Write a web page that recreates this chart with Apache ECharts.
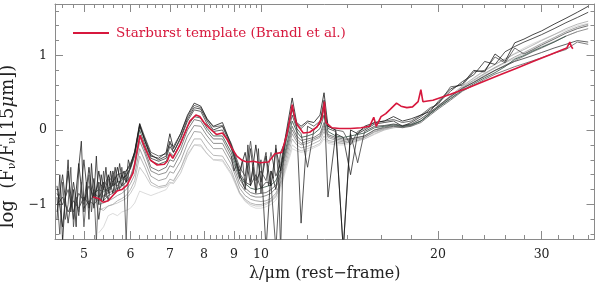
<!DOCTYPE html>
<html><head><meta charset="utf-8">
<script src="https://cdn.jsdelivr.net/npm/echarts@6/dist/echarts.min.js"></script>
<style>html,body{margin:0;padding:0;background:#fff}#c{width:600px;height:283px}</style>
</head><body><div id="c"></div>
<script>
// shared wavelength grid (micron)
const wl = [4.5,4.6,4.7,4.8,4.9,5.0,5.1,5.2,5.3,5.4,
 5.5,5.6,5.7,5.8,5.9,6.0,6.1,6.22,6.35,6.5,
 6.7,6.9,7.0,7.1,7.3,7.5,7.7,7.9,8.1,8.3,
 8.6,8.9,9.2,9.4,9.6,9.8,10.0,10.2,10.4,10.6,
 10.8,11.0,11.3,11.5,11.7,12.0,12.3,12.6,12.8,13.0,
 13.4,13.8,14.2,14.6,15.0,15.6,16.2,16.8,17.4,18.0,
 18.7,19.4,20.0,21.0,22.0,23.0,24.0,25.0,26.0,27.0,
 28.0,29.0,30.0,31.5,33.0,34.5,36.0];

const s1 = [-0.75,-1.30,-0.55,-1.20,-0.45,-1.10,-0.50,-1.05,-0.55,-0.95,
 -0.60,-0.85,-0.50,-0.75,-0.55,-0.45,-0.30,0.08,-0.15,-0.35,
 -0.38,-0.30,-0.05,-0.25,-0.05,0.20,0.36,0.32,0.15,0.05,
 0.10,-0.20,-0.55,-0.30,-0.75,-0.20,-0.70,-0.35,-0.75,-0.25,
 -0.55,-0.10,0.43,0.10,0.05,0.12,0.10,0.20,0.50,0.05,
 0.00,-1.60,0.00,-0.05,0.05,0.10,0.12,0.18,0.12,0.15,
 0.20,0.25,0.38,0.55,0.62,0.80,0.78,1.02,0.92,1.17,
 1.22,1.28,1.33,1.42,1.50,1.58,1.66];
const s2 = [-1.10,-0.60,-1.25,-0.70,-1.15,-0.40,-1.05,-0.65,-1.20,-0.70,
 -0.95,-0.55,-0.80,-0.60,-0.70,-0.50,-0.30,0.05,-0.12,-0.33,
 -0.40,-0.35,-0.15,-0.30,-0.10,0.15,0.30,0.28,0.12,0.00,
 0.05,-0.22,-0.60,-0.80,-0.25,-0.85,-0.40,-1.60,-0.55,-0.80,
 -0.30,-0.15,0.28,0.05,-1.25,0.05,0.00,0.10,0.40,-0.90,
 -0.05,-0.10,-0.60,-0.05,0.00,0.08,0.10,0.12,0.05,0.10,
 0.18,0.28,0.36,0.52,0.65,0.74,0.92,0.88,1.05,1.12,
 1.18,1.23,1.28,1.36,1.44,1.51,1.58];
const s3 = [-1.00,-0.90,-1.10,-0.95,-1.05,-0.90,-1.00,-0.85,-0.90,-0.80,
 -0.82,-0.72,-0.75,-0.65,-0.62,-0.50,-0.32,0.06,-0.15,-0.38,
 -0.42,-0.38,-0.22,-0.30,-0.12,0.12,0.27,0.25,0.08,-0.02,
 0.00,-0.25,-0.58,-0.70,-0.74,-0.60,-0.78,-0.70,-0.72,-1.60,
 -0.50,-0.20,0.20,0.02,-0.05,-0.50,0.00,0.08,0.30,0.02,
 -0.02,-1.60,-0.05,-0.44,-0.02,0.05,0.06,0.08,0.06,0.08,
 0.15,0.24,0.32,0.45,0.56,0.64,0.72,0.80,0.86,0.92,
 0.96,1.00,1.04,1.10,1.15,1.20,1.18];
const s4 = [null,null,null,null,null,null,null,-0.85,-0.80,-0.83,
 -0.78,-0.75,-0.70,-0.68,-0.60,-0.52,-0.35,0.00,-0.20,-0.42,
 -0.46,-0.42,-0.30,-0.35,-0.18,0.05,0.18,0.16,0.02,-0.08,
 -0.08,-0.30,-0.62,-0.72,-0.78,-0.80,-0.78,-0.76,-0.74,-0.68,
 -0.52,-0.28,0.12,-0.02,-0.10,-0.08,-0.05,0.02,0.20,-0.02,
 -0.08,-0.10,-0.08,-0.06,-0.04,0.03,0.05,0.07,0.05,0.07,
 0.12,0.22,0.30,0.42,0.53,0.62,0.70,0.77,0.85,0.95,
 1.00,1.06,1.11,1.18,1.26,null,null];
const s5 = [-0.85,-1.00,-0.80,-1.10,-0.85,-0.95,-0.75,-0.90,-0.70,-0.78,
 -0.62,-0.70,-0.60,-0.58,-0.55,-0.48,-0.28,0.09,-0.10,-0.30,
 -0.35,-0.32,-0.18,-0.22,-0.05,0.18,0.33,0.30,0.14,0.04,
 0.06,-0.18,-0.50,-0.62,-0.15,-0.68,-0.55,-0.68,-0.30,-0.62,
 -0.45,-0.12,0.30,0.08,0.02,0.10,0.05,0.12,0.32,0.05,
 0.00,-0.02,-0.20,-0.02,0.02,0.10,0.12,0.14,0.10,0.12,
 0.20,0.30,0.34,0.58,0.60,0.78,0.80,0.98,0.90,1.10,
 1.02,1.08,1.14,1.22,1.30,1.36,1.40];
const s6 = [null,null,null,null,null,-1.05,-0.95,-1.00,-0.92,-0.95,
 -0.88,-0.85,-0.80,-0.76,-0.70,-0.62,-0.45,-0.08,-0.28,-0.50,
 -0.55,-0.50,-0.40,-0.42,-0.25,0.00,0.14,0.12,-0.02,-0.12,
 -0.12,-0.35,-0.66,-0.78,-0.84,-0.86,-0.85,-0.84,-0.80,-0.74,
 -0.58,-0.32,0.05,-0.08,-0.14,-0.12,-0.10,-0.05,0.10,-0.06,
 -0.10,-0.12,-0.12,-0.10,-0.08,0.00,0.03,0.05,0.03,0.05,
 0.10,0.20,0.28,0.40,0.52,0.60,0.68,0.75,0.80,0.85,
 0.89,0.93,0.97,1.03,1.08,1.18,1.15];
const s7 = [null,null,null,null,null,null,null,-0.90,-0.95,-0.88,
 -0.85,-0.82,-0.78,-0.75,-0.70,-0.64,-0.50,-0.15,-0.32,-0.55,
 -0.60,-0.57,-0.48,-0.50,-0.32,-0.08,0.06,0.05,-0.08,-0.18,
 -0.18,-0.40,-0.72,-0.82,-0.88,-0.90,-0.90,-0.88,-0.85,-0.78,
 -0.62,-0.36,0.00,-0.12,-0.18,-0.15,-0.12,-0.08,0.06,-0.08,
 -0.12,-0.14,-0.12,-0.10,-0.08,0.00,0.04,0.06,0.04,0.06,
 0.12,0.22,0.30,0.42,0.55,0.64,0.73,0.80,0.87,0.93,
 0.99,1.05,1.10,1.18,1.26,1.32,1.36];
const s8 = [null,null,null,null,null,null,null,null,-1.00,-0.98,
 -0.95,-0.92,-0.88,-0.85,-0.80,-0.72,-0.60,-0.25,-0.42,-0.62,
 -0.68,-0.65,-0.56,-0.58,-0.42,-0.18,-0.02,-0.03,-0.15,-0.25,
 -0.25,-0.46,-0.78,-0.88,-0.93,-0.95,-0.96,-0.95,-0.92,-0.85,
 -0.70,-0.42,-0.05,-0.16,-0.20,-0.18,-0.14,-0.10,0.02,-0.10,
 -0.14,-0.16,-0.14,-0.12,-0.10,-0.02,0.02,0.05,0.04,0.06,
 0.12,0.22,0.31,0.44,0.57,0.67,0.76,0.84,0.91,0.98,
 1.04,1.10,1.16,1.24,1.32,1.38,1.42];
const s9 = [null,null,null,null,null,null,null,null,-1.05,-1.08,
 -1.02,-1.00,-0.95,-0.92,-0.88,-0.80,-0.68,-0.35,-0.50,-0.70,
 -0.76,-0.74,-0.66,-0.68,-0.52,-0.28,-0.12,-0.12,-0.25,-0.34,
 -0.35,-0.54,-0.84,-0.93,-0.98,-1.00,-1.00,-0.98,-0.95,-0.88,
 -0.74,-0.48,-0.12,-0.20,-0.24,-0.22,-0.18,-0.14,-0.02,-0.14,
 -0.16,-0.18,-0.16,-0.14,-0.10,-0.03,0.01,0.04,0.04,0.06,
 0.12,0.23,0.32,0.46,0.59,0.70,0.80,0.88,0.95,1.02,
 1.08,1.14,1.20,1.28,1.36,1.42,1.46];
const s10 = [null,null,null,null,null,null,null,null,-1.07,-1.05,
 -1.02,-1.00,-0.98,-0.95,-0.92,-0.85,-0.75,-0.50,-0.60,-0.74,
 -0.78,-0.76,-0.70,-0.72,-0.58,-0.35,-0.20,-0.20,-0.32,-0.40,
 -0.40,-0.58,-0.85,-0.95,-1.00,-1.02,-1.02,-1.00,-0.96,-0.90,
 -0.76,-0.52,-0.20,-0.25,-0.28,-0.25,-0.22,-0.18,-0.08,-0.16,
 -0.18,-0.18,-0.16,-0.14,-0.12,-0.05,0.00,0.03,0.04,0.06,
 0.12,0.22,0.31,0.44,0.56,0.66,0.75,0.83,0.90,0.96,
 1.02,1.07,1.12,1.19,1.26,1.32,null];
const s11 = [null,null,null,null,null,null,null,null,-1.38,-1.30,
 -1.15,-1.12,-1.15,-1.10,-1.08,-1.05,-0.98,-0.82,-0.85,-0.88,
 -0.84,-0.80,-0.72,-0.70,-0.52,-0.32,-0.20,-0.22,-0.32,-0.40,
 -0.42,-0.60,-0.86,-0.96,-1.02,-1.05,-1.05,-1.03,-1.00,-0.94,
 -0.80,-0.56,-0.25,-0.28,-0.30,-0.28,-0.24,-0.20,-0.12,-0.18,
 -0.20,-0.20,-0.18,-0.15,-0.12,-0.06,0.00,0.03,0.05,0.07,
 0.13,0.23,0.32,0.46,0.58,0.69,0.79,0.88,0.96,1.03,
 1.10,1.16,1.21,1.28,1.34,1.40,1.43];

// noisy short-wavelength segments
const noiseWl = [4.50,4.55,4.60,4.65,4.70,4.75,4.80,4.85,4.90,4.95,5.00,5.05,5.10,5.15,5.20,5.25,5.30,5.35,5.40,5.45,5.50,5.55,5.60,5.65,5.70,5.75,5.80,5.85,5.90,5.95,6.00];
const noiseA = [-1.2,-0.6,-1.5,-0.9,-0.4,-1.1,-0.8,-1.3,-0.5,-0.15,-1.0,-0.7,-1.2,-0.45,-0.9,-0.35,-1.0,-0.6,-0.8,-0.5,-0.85,-0.55,-0.75,-0.5,-0.7,-0.45,-0.65,-0.55,-0.7,-0.4,-0.5];
const noiseB = [-0.9,-1.4,-0.7,-1.2,-1.0,-0.5,-1.3,-0.9,-1.1,-0.7,-1.3,-0.9,-0.6,-1.1,-0.8,-1.5,-0.7,-0.95,-0.55,-0.9,-0.65,-0.8,-0.6,-0.85,-0.65,-0.8,-0.5,-0.75,-1.5,-0.6,-0.45];
const noiseWlC = [8.9,9.0,9.1,9.2,9.3,9.4,9.5,9.6,9.7,9.8,9.9,10.0,10.1,10.2,10.3,10.4,10.5,10.6,10.7,10.8,10.9,11.0];
const noiseC = [-0.35,-0.55,-0.45,-0.65,-0.40,-0.75,-0.20,-0.70,-0.50,-0.80,-0.25,-0.85,-0.45,-0.30,-0.75,-0.55,-0.65,-0.20,-0.60,-1.60,-0.45,-0.15];

// starburst template
const redWl = [5.18,5.3,5.39,5.5,5.6,5.69,5.8,5.92,6.06,6.15,
 6.23,6.32,6.48,6.66,6.85,6.93,7.0,7.08,7.28,7.57,
 7.75,7.87,8.0,8.18,8.4,8.6,8.75,8.9,9.1,9.3,
 9.47,9.7,9.96,10.3,10.56,10.85,11.07,11.2,11.3,11.4,
 11.5,11.8,12.1,12.45,12.7,12.82,12.9,13.2,13.6,14.2,
 14.8,15.3,15.55,15.7,16.0,16.3,16.6,17.0,17.3,17.7,
 18.1,18.5,18.7,18.85,19.2,19.6,21.0,22.4,23.9,25.5,
 27.2,29.0,31.0,33.1,33.5,33.7,33.9];
const redVal = [-0.90,-0.92,-0.97,-0.95,-0.88,-0.82,-0.80,-0.74,-0.58,-0.30,
 -0.07,-0.20,-0.40,-0.47,-0.46,-0.42,-0.32,-0.38,-0.20,0.12,
 0.20,0.18,0.10,0.02,-0.06,-0.04,-0.12,-0.23,-0.35,-0.41,
 -0.43,-0.42,-0.44,-0.43,-0.32,-0.30,-0.05,0.15,0.34,0.18,
 0.08,-0.04,-0.03,0.04,0.16,0.38,0.10,0.03,0.02,0.02,
 0.03,0.05,0.17,0.05,0.18,0.22,0.28,0.36,0.32,0.30,
 0.31,0.38,0.54,0.38,0.39,0.40,0.48,0.56,0.65,0.74,
 0.83,0.92,1.01,1.10,1.18,1.12,1.09];

// ticks
const xMajor = [5,6,7,8,9,10,20,30];
const xMinor = [4.6,4.8,5.2,5.4,5.6,5.8,6.2,6.4,6.6,6.8,7.2,7.4,7.6,7.8,8.2,8.4,8.6,8.8,9.2,9.4,9.6,9.8,12,14,16,18,22,24,26,28,32,34,36];
const yMajor = [-1,0,1];
const yMinor = [-1.4,-1.2,-0.8,-0.6,-0.4,-0.2,0.2,0.4,0.6,0.8,1.2,1.4,1.6];
const legendName = 'Starburst template (Brandl et al.)';

const lamMin = 4.465, lamMax = 36.9, yMin = -1.463, yMax = 1.691;
const L = Math.log10;
const FONT = 'DejaVu Serif';
const FRAME = '#8a8a8a';
const RED = '#d7183d';

function pts(xs, ys){ const o=[]; for(let i=0;i<xs.length;i++){ if(ys[i]!==null&&ys[i]!==undefined) o.push([L(xs[i]), ys[i]]); } return o; }

const grays = [
 [s11,'#d2d2d2'],[s10,'#bdbdbd'],[s9,'#a6a6a6'],[s8,'#8f8f8f'],[s7,'#767676'],
 [s6,'#5e5e5e'],[s5,'#4a4a4a'],[s4,'#2f4d40'],[s3,'#3a3a3a'],[s2,'#2a2a2a'],[s1,'#161616']
];
const series = [];
grays.forEach((g,i)=>{
  series.push({type:'line', name:'s'+i, data:pts(wl,g[0]), symbol:'none', silent:true,
    lineStyle:{color:g[1], width:0.8}, itemStyle:{color:g[1]}, z:2+i});
});
[[noiseWl,noiseB,'#4a4a4a'],[noiseWl,noiseA,'#262626'],[noiseWlC,noiseC,'#333333']].forEach((n,i)=>{
  series.push({type:'line', name:'n'+i, data:pts(n[0],n[1]), symbol:'none', silent:true,
    lineStyle:{color:n[2], width:0.8}, z:14+i});
});
series.push({type:'line', name:legendName, data:pts(redWl,redVal), symbol:'none', showSymbol:false, silent:true,
  lineStyle:{color:RED, width:1.6}, itemStyle:{color:RED}, z:30});

function xAx(pos, vals, len, showLine, withLabels){
  const a = {type:'value', position:pos, min:L(lamMin), max:L(lamMax), splitLine:{show:false},
    axisLine:{show:showLine, onZero:false, lineStyle:{color:FRAME, width:1}},
    axisTick:{show:true, inside:true, length:len, customValues:vals.map(L), lineStyle:{color:FRAME}},
    axisLabel:{show:false}};
  if (withLabels){
    a.axisLabel = {show:true, customValues:xMajor.map(L), margin:9, color:'#222', fontFamily:FONT, fontSize:12.5,
      formatter:v=>String(Math.round(Math.pow(10,v)))};
    a.name = 'λ/μm (rest−frame)';
    a.nameLocation = 'middle'; a.nameGap = 23;
    a.nameTextStyle = {fontFamily:FONT, fontSize:16, color:'#222'};
  }
  return a;
}
function yAx(pos, vals, len, showLine, withLabels){
  const a = {type:'value', position:pos, min:yMin, max:yMax, splitLine:{show:false},
    axisLine:{show:showLine, onZero:false, lineStyle:{color:FRAME, width:1}},
    axisTick:{show:true, inside:true, length:len, customValues:vals, lineStyle:{color:FRAME}},
    axisLabel:{show:false}};
  if (withLabels){
    a.axisLabel = {show:true, customValues:yMajor, margin:8, color:'#222', fontFamily:FONT, fontSize:12.5,
      formatter:v=> v<0 ? '−'+Math.abs(v) : String(v)};
    a.name = '{t|log  (F}{s|ν}{t|/F}{s|ν}{t|[15}{i|μ}{t|m])}';
    a.nameLocation = 'middle'; a.nameRotate = 90; a.nameGap = 23;
    a.nameTextStyle = {padding:[0,50,0,0], rich:{
      t:{fontFamily:FONT, fontSize:18, color:'#222'},
      s:{fontFamily:FONT, fontSize:11, color:'#222', verticalAlign:'bottom'},
      i:{fontFamily:FONT, fontSize:18, color:'#222', fontStyle:'italic'}}};
  }
  return a;
}

const chart = echarts.init(document.getElementById('c'), null, {renderer:'canvas'});
chart.setOption({
  animation:false,
  backgroundColor:'#fff',
  grid:{left:55, right:5.5, top:4, bottom:44, containLabel:false, outerBoundsMode:'none'},
  legend:{data:[{name:legendName, icon:'rect'}], left:73, top:26, padding:0, itemWidth:36, itemHeight:2, itemGap:0,
    itemStyle:{color:RED, borderWidth:0},
    textStyle:{color:RED, fontFamily:FONT, fontSize:13.5, padding:[0,0,0,2]}, selectedMode:false},
  xAxis:[xAx('bottom',xMajor,8,true,true), xAx('bottom',xMinor,4,false,false),
         xAx('top',xMajor,8,true,false), xAx('top',xMinor,4,false,false)],
  yAxis:[yAx('left',yMajor,8,true,true), yAx('left',yMinor,4,false,false),
         yAx('right',yMajor,8,true,false), yAx('right',yMinor,4,false,false)],
  series:series
});
</script></body></html>
